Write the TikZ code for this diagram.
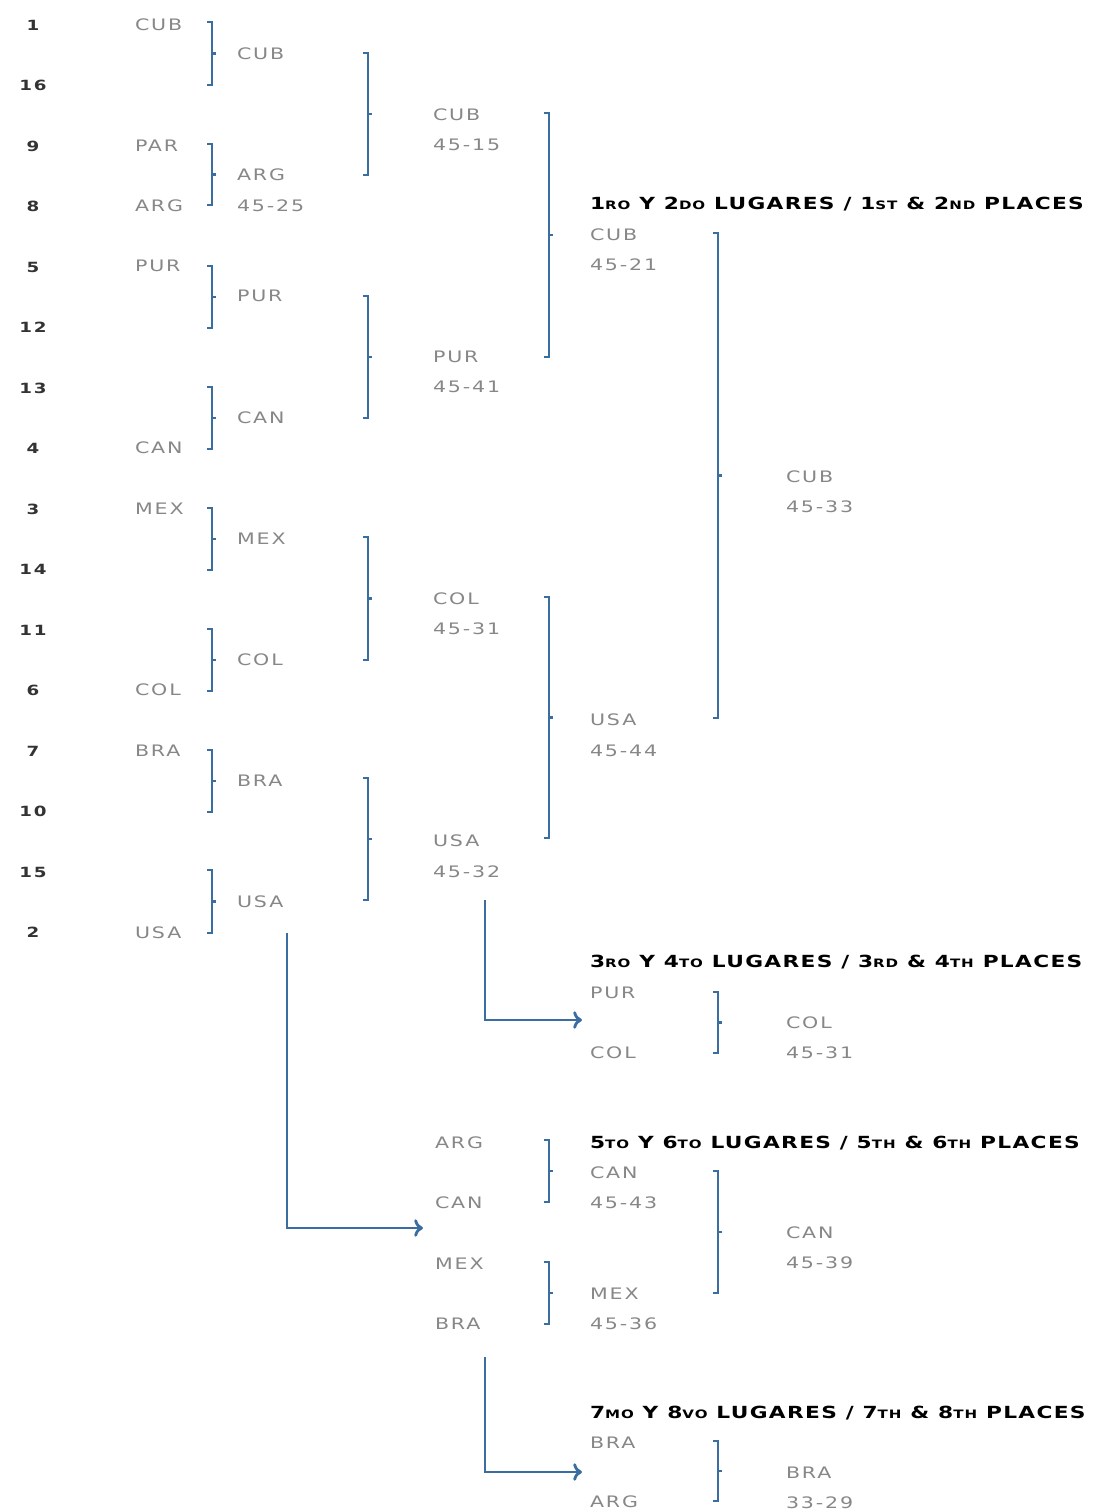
\documentclass[tikz,border=0pt]{standalone}
\usepackage{fontspec}
\setmainfont{DejaVu Sans}[LetterSpace=12, FakeStretch=1.3]
\newfontfamily\headfont{DejaVu Sans}[LetterSpace=8, FakeStretch=1.3]
\usetikzlibrary{positioning, arrows.meta}
\definecolor{brkblue}{RGB}{58,110,160}
\definecolor{teamgray}{RGB}{135,135,135}
\newcommand{\sm}[1]{{\fontsize{6.6}{7}\selectfont #1}}
% bracket: x, top y, bottom y
\newcommand{\brkt}[3]{%
  \draw[brk] (#1-5,#2) -- (#1,#2) -- (#1,#3) -- (#1-5,#3);
  \draw[brk] (#1,{(#2+#3)/2}) -- +(4,0);}

\begin{document}
\begin{tikzpicture}[x=0.02cm, y=-0.02cm,
    every node/.style={inner sep=0pt, outer sep=0pt},
    team/.style={anchor=west, text=teamgray, font=\fontsize{9}{10}\selectfont},
    seed/.style={text=black!80, font=\bfseries\fontsize{8}{9}\selectfont},
    head/.style={anchor=west, font=\headfont\bfseries\fontsize{9.5}{10}\selectfont},
    brk/.style={brkblue, line width=1.3pt},
    arr/.style={brkblue, line width=1.6pt, -{To[length=5pt, width=10pt]}}]
        \useasboundingbox (0,0) rectangle (1096,1512);

        % Seeds
        \foreach \s [count=\i from 0] in {1,16,9,8,5,12,13,4,3,14,11,6,7,10,15,2}
          \node (seed\s) [seed] at (33, 25+60.5*\i) {\s};

        % First round teams
        \node (cub) [team] at (135,25) {CUB};
        \node (par) [team] at (135,146) {PAR};
        \node (arg) [team] at (135,206) {ARG};
        \node (pur) [team] at (135,266) {PUR};
        \node (can) [team] at (135,448) {CAN};
        \node (mex) [team] at (135,509) {MEX};
        \node (col) [team] at (135,690) {COL};
        \node (bra) [team] at (135,751) {BRA};
        \node (usa) [team] at (135,933) {USA};

        % First round winners
        \brkt{212}{22}{85}
        \brkt{212}{144}{205}
        \brkt{212}{266}{328}
        \brkt{212}{387}{449}
        \brkt{212}{508}{570}
        \brkt{212}{629}{691}
        \brkt{212}{750}{812}
        \brkt{212}{870}{933}
        \node (r1cub) [team] at (237,54) {CUB};
        \node (r1arg) [team] at (237,175) {ARG};
        \node (r1args) [team] at (237,206) {45-25};
        \node (r1pur) [team] at (237,296) {PUR};
        \node (r1can) [team] at (237,418) {CAN};
        \node (r1mex) [team] at (237,539) {MEX};
        \node (r1col) [team] at (237,660) {COL};
        \node (r1bra) [team] at (237,781) {BRA};
        \node (r1usa) [team] at (237,902) {USA};

        % Second round
        \brkt{368}{53}{175}
        \brkt{368}{296}{418}
        \brkt{368}{537}{660}
        \brkt{368}{778}{900}
        \node (r2cub) [team] at (433,115) {CUB};
        \node (r2cubs) [team] at (433,145) {45-15};
        \node (r2pur) [team] at (433,357) {PUR};
        \node (r2purs) [team] at (433,387) {45-41};
        \node (r2col) [team] at (433,599) {COL};
        \node (r2cols) [team] at (433,629) {45-31};
        \node (r2usa) [team] at (433,841) {USA};
        \node (r2usas) [team] at (433,872) {45-32};

        % Semifinals
        \brkt{549}{113}{357}
        \brkt{549}{597}{838}
        \node (h12) [head] at (590,204) {1\sm{RO} Y 2\sm{DO} LUGARES / 1\sm{ST} \& 2\sm{ND} PLACES};
        \node (r3cub) [team] at (590,235) {CUB};
        \node (r3cubs) [team] at (590,265) {45-21};
        \node (r3usa) [team] at (590,720) {USA};
        \node (r3usas) [team] at (590,751) {45-44};

        % Final
        \brkt{718}{233}{718}
        \node (fcub) [team] at (786,477) {CUB};
        \node (fcubs) [team] at (786,507) {45-33};

        % 3rd and 4th places
        \coordinate (a1s) at (485,900);
        \coordinate (a1e) at (582,1020);
        \draw[arr] (a1s) |- (a1e);
        \node (h34) [head] at (590,962) {3\sm{RO} Y 4\sm{TO} LUGARES / 3\sm{RD} \& 4\sm{TH} PLACES};
        \node (p3pur) [team] at (590,993) {PUR};
        \node (p3col) [team] at (590,1053) {COL};
        \brkt{718}{992}{1053}
        \node (p3w) [team] at (786,1023) {COL};
        \node (p3ws) [team] at (786,1053) {45-31};

        % 5th to 8th places
        \coordinate (a2s) at (287,933);
        \coordinate (a2e) at (423,1228);
        \draw[arr] (a2s) |- (a2e);
        \node (c2arg) [team] at (435,1143) {ARG};
        \node (c2can) [team] at (435,1203) {CAN};
        \node (c2mex) [team] at (435,1264) {MEX};
        \node (c2bra) [team] at (435,1324) {BRA};
        \brkt{549}{1140}{1202}
        \brkt{549}{1262}{1324}
        \node (h56) [head] at (590,1143) {5\sm{TO} Y 6\sm{TO} LUGARES / 5\sm{TH} \& 6\sm{TH} PLACES};
        \node (c3can) [team] at (590,1173) {CAN};
        \node (c3cans) [team] at (590,1203) {45-43};
        \node (c3mex) [team] at (590,1294) {MEX};
        \node (c3mexs) [team] at (590,1324) {45-36};
        \brkt{718}{1171}{1293}
        \node (p5w) [team] at (786,1233) {CAN};
        \node (p5ws) [team] at (786,1263) {45-39};

        % 7th and 8th places
        \coordinate (a3s) at (485,1357);
        \coordinate (a3e) at (582,1472);
        \draw[arr] (a3s) |- (a3e);
        \node (h78) [head] at (590,1413) {7\sm{MO} Y 8\sm{VO} LUGARES / 7\sm{TH} \& 8\sm{TH} PLACES};
        \node (p7bra) [team] at (590,1443) {BRA};
        \node (p7arg) [team] at (590,1502) {ARG};
        \brkt{718}{1441}{1501}
        \node (p7w) [team] at (786,1473) {BRA};
        \node (p7ws) [team] at (786,1503) {33-29};
      \end{tikzpicture}
\end{document}
